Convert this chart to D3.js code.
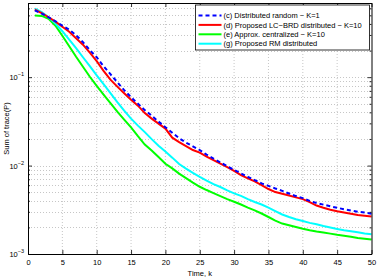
<!DOCTYPE html>
<html>
<head>
<meta charset="utf-8">
<script src="https://cdn.jsdelivr.net/npm/d3@7/dist/d3.min.js"></script>
<style>
  body { margin: 0; background: #fff; }
  svg { display: block; font-family: "Liberation Sans", Arial, sans-serif; }
</style>
</head>
<body>
<div id="chart"></div>
<script>
// time steps k
const steps = d3.range(1, 51);

// (c) Distributed random - K=1
const distRandom = [0.571, 0.522, 0.476, 0.429, 0.382, 0.344, 0.298, 0.249, 0.202, 0.168,
  0.133, 0.108, 0.0878, 0.0713, 0.0594, 0.0502, 0.0424, 0.0367, 0.0314, 0.0272,
  0.0235, 0.0204, 0.0182, 0.0165, 0.0150, 0.0133, 0.0120, 0.01087, 0.00982, 0.00894,
  0.00816, 0.00747, 0.00686, 0.00629, 0.00590, 0.00551, 0.00518, 0.00483, 0.00452, 0.00429,
  0.00399, 0.00377, 0.00362, 0.00346, 0.00333, 0.00321, 0.00310, 0.00301, 0.00294, 0.00285];

// (d) Proposed LC-BRD distributed - K=10
const lcBrd = [0.579, 0.529, 0.476, 0.424, 0.372, 0.327, 0.276, 0.233, 0.189, 0.152,
  0.118, 0.0937, 0.0781, 0.0659, 0.0557, 0.0476, 0.0392, 0.0340, 0.0298, 0.0262,
  0.0207, 0.0184, 0.0166, 0.0150, 0.0140, 0.0126, 0.0115, 0.0105, 0.00962, 0.00871,
  0.00781, 0.00717, 0.00663, 0.00602, 0.00543, 0.00502, 0.00480, 0.00458, 0.00437, 0.00418,
  0.00387, 0.00353, 0.00333, 0.00317, 0.00304, 0.00294, 0.00285, 0.00276, 0.00270, 0.00265];

// (e) Approx. centralized - K=10
const approxCentral = [0.498, 0.493, 0.458, 0.382, 0.294, 0.224, 0.170, 0.131, 0.101, 0.0798,
  0.0634, 0.0508, 0.0407, 0.0331, 0.0270, 0.0215, 0.0173, 0.0148, 0.0125, 0.0105,
  0.00930, 0.00812, 0.00722, 0.00643, 0.00576, 0.00529, 0.00489, 0.00452, 0.00418, 0.00390,
  0.00363, 0.00335, 0.00312, 0.00287, 0.00262, 0.00239, 0.00221, 0.00211, 0.00202, 0.00193,
  0.00186, 0.00180, 0.00175, 0.00170, 0.00165, 0.00161, 0.00157, 0.00152, 0.00149, 0.00146];

// (g) Proposed RM distributed
const rmDist = [0.594, 0.543, 0.476, 0.404, 0.331, 0.265, 0.213, 0.168, 0.133, 0.105,
  0.0834, 0.0659, 0.0522, 0.0418, 0.0340, 0.0283, 0.0239, 0.0199, 0.0168, 0.0144,
  0.0123, 0.0104, 0.00925, 0.00829, 0.00747, 0.00677, 0.00618, 0.00572, 0.00525, 0.00485,
  0.00455, 0.00418, 0.00387, 0.00363, 0.00335, 0.00306, 0.00280, 0.00262, 0.00247, 0.00236,
  0.00225, 0.00217, 0.00207, 0.00199, 0.00192, 0.00186, 0.00181, 0.00176, 0.00171, 0.00167];

const xTicks = [0, 5, 10, 15, 20, 25, 30, 35, 40, 45, 50];
const yMajor = [1e-3, 1e-2, 1e-1];
const yExp = ['\u22123', '\u22122', '\u22121'];

const legendLabels = [
  '(c) Distributed random \u2212 K=1',
  '(d) Proposed LC\u2212BRD distributed \u2212 K=10',
  '(e) Approx. centralized \u2212 K=10',
  '(g) Proposed RM distributed'
];

const W = 381, H = 279;
const margin = { left: 28, right: 9.5, top: 3, bottom: 25 };
const width = W - margin.left - margin.right;
const height = H - margin.top - margin.bottom;

const svg = d3.select('#chart').append('svg')
  .attr('width', W).attr('height', H);

const g = svg.append('g')
  .attr('transform', `translate(${margin.left},${margin.top})`);

const x = d3.scaleLinear().domain([0, 50]).range([0, width]);
const y = d3.scaleLog().domain([1e-3, 0.69]).range([height, 0]);

// minor log values 2..9 in every decade that fits
const yMinor = [];
[1e-3, 1e-2, 1e-1].forEach(d => {
  for (let m = 2; m <= 9; m++) {
    const v = d * m;
    if (v < 0.69) yMinor.push(v);
  }
});

// grid
const grid = g.append('g').attr('stroke', '#b8b8b8').attr('stroke-width', 0.8)
  .attr('stroke-dasharray', '1,2');
grid.selectAll('.gx').data(xTicks.slice(1, -1)).join('line')
  .attr('x1', d => x(d)).attr('x2', d => x(d))
  .attr('y1', 0).attr('y2', height);
grid.selectAll('.gy').data(yMajor.concat(yMinor)).join('line')
  .attr('x1', 0).attr('x2', width)
  .attr('y1', d => Math.round(y(d)) + 0.5).attr('y2', d => Math.round(y(d)) + 0.5);

// lines
const line = d3.line()
  .x((d, i) => x(steps[i]))
  .y(d => y(d));

const series = [
  { data: approxCentral, color: '#00ff00', dash: null },
  { data: rmDist, color: '#00ffff', dash: null },
  { data: lcBrd, color: '#ff0000', dash: null },
  { data: distRandom, color: '#0000ff', dash: '4,3' }
];

series.forEach(s => {
  g.append('path')
    .datum(s.data)
    .attr('fill', 'none')
    .attr('stroke', s.color)
    .attr('stroke-width', 2)
    .attr('stroke-dasharray', s.dash)
    .attr('d', line);
});

// axes box with inward ticks
const axisStyle = sel => {
  sel.select('.domain').attr('stroke', '#000').attr('stroke-width', 1);
  sel.selectAll('.tick line').attr('stroke', '#000').attr('stroke-width', 0.8);
};

g.append('g')
  .attr('transform', `translate(0,${height})`)
  .call(d3.axisBottom(x).tickValues(xTicks).tickSize(-4).tickSizeOuter(0).tickPadding(6))
  .call(axisStyle)
  .call(a => a.selectAll('text').attr('font-size', 7.5).attr('fill', '#000')
    .attr('font-family', '"Liberation Sans", Arial, sans-serif'));

g.append('g')
  .call(d3.axisTop(x).tickValues(xTicks).tickSize(-4).tickSizeOuter(0).tickFormat(''))
  .call(axisStyle);

g.append('g')
  .call(d3.axisLeft(y).tickValues(yMajor).tickSize(-4).tickSizeOuter(0).tickFormat(''))
  .call(axisStyle);
g.append('g')
  .call(d3.axisLeft(y).tickValues(yMinor).tickSize(-2).tickSizeOuter(0).tickFormat(''))
  .call(a => a.select('.domain').remove())
  .call(axisStyle);

g.append('g')
  .attr('transform', `translate(${width},0)`)
  .call(d3.axisRight(y).tickValues(yMajor).tickSize(-4).tickSizeOuter(0).tickFormat(''))
  .call(axisStyle);
g.append('g')
  .attr('transform', `translate(${width},0)`)
  .call(d3.axisRight(y).tickValues(yMinor).tickSize(-2).tickSizeOuter(0).tickFormat(''))
  .call(a => a.select('.domain').remove())
  .call(axisStyle);

g.append('line').attr('x1', 0).attr('x2', width).attr('y1', 0.5).attr('y2', 0.5)
  .attr('stroke', '#000');

// y tick labels 10^n
yMajor.forEach((v, i) => {
  const t = g.append('text')
    .attr('x', -4)
    .attr('y', y(v) + 3)
    .attr('text-anchor', 'end')
    .attr('font-size', 7.5);
  t.append('tspan').text('10');
  t.append('tspan').attr('dy', -4).attr('font-size', 5.5).text(yExp[i]);
});

// axis titles
g.append('text')
  .attr('x', width / 2)
  .attr('y', height + 22)
  .attr('text-anchor', 'middle')
  .attr('font-size', 7.5)
  .text('Time, k');

svg.append('text')
  .attr('transform', `translate(9,${margin.top + height / 2}) rotate(-90)`)
  .attr('text-anchor', 'middle')
  .attr('font-size', 7.5)
  .text('Sum of trace(P)');

// legend
const lg = g.append('g').attr('transform', `translate(${width - 176},2)`);
lg.append('rect')
  .attr('width', 174).attr('height', 45)
  .attr('fill', '#fff').attr('stroke', '#000').attr('stroke-width', 0.8);

const legendSeries = [series[3], series[2], series[0], series[1]];
legendLabels.forEach((lab, i) => {
  const yy = 10.5 + i * 9.4;
  lg.append('line')
    .attr('x1', 3).attr('x2', 26).attr('y1', yy).attr('y2', yy)
    .attr('stroke', legendSeries[i].color)
    .attr('stroke-width', 2)
    .attr('stroke-dasharray', legendSeries[i].dash);
  lg.append('text')
    .attr('x', 28).attr('y', yy + 2.7)
    .attr('font-size', 7.5)
    .text(lab);
});
</script>
</body>
</html>
